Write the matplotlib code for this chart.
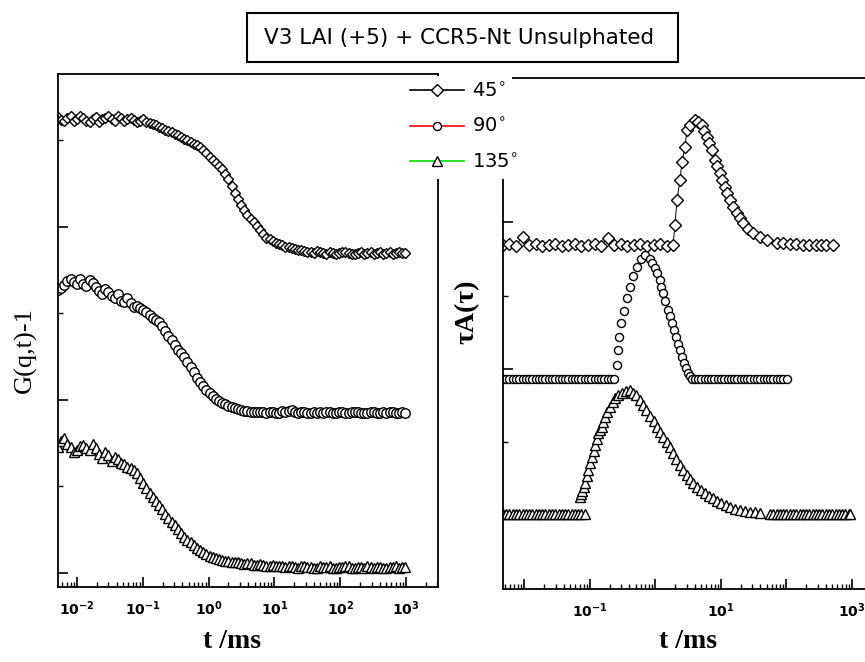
import matplotlib
matplotlib.use("Agg")
import numpy as np
import matplotlib.pyplot as plt
from matplotlib.lines import Line2D
from matplotlib.patches import Rectangle
from matplotlib.ticker import LogLocator, FuncFormatter, MultipleLocator, NullFormatter

W, H = 865, 662

# ---------------- data: left panel, correlation functions (offset) ----------------
lag_ms = [0.00513, 0.00573, 0.00640, 0.00715, 0.00798, 0.00891, 0.00995, 0.01112, 0.01242, 0.01387,
          0.01549, 0.01730, 0.01932, 0.02158, 0.02410, 0.02692, 0.03006, 0.03357, 0.03750, 0.04188,
          0.04677, 0.05224, 0.05834, 0.06516, 0.07278, 0.08128, 0.09078, 0.1014, 0.1132, 0.1265,
          0.1413, 0.1578, 0.1762, 0.1968, 0.2198, 0.2455, 0.2742, 0.3062, 0.3420, 0.3819,
          0.4266, 0.4764, 0.5321, 0.5943, 0.6637, 0.7413, 0.8279, 0.9247, 1.033, 1.153,
          1.288, 1.439, 1.607, 1.795, 2.004, 2.239, 2.500, 2.793, 3.119, 3.483,
          3.890, 4.345, 4.853, 5.420, 6.053, 6.761, 7.551, 8.433, 9.419, 10.52,
          11.75, 13.12, 14.66, 16.37, 18.28, 20.42, 22.80, 25.47, 28.44, 31.77,
          35.48, 39.63, 44.26, 49.43, 55.21, 61.66, 68.87, 76.91, 85.90, 95.94,
          107.2, 119.7, 133.7, 149.3, 166.7, 186.2, 208.0, 232.3, 259.4, 289.7,
          323.6, 361.4, 403.6, 450.8, 503.5, 562.3, 628.1, 701.5, 783.4, 875.0, 977.2]

g_45 = [2.636, 2.620, 2.613, 2.628, 2.642, 2.610, 2.624, 2.640, 2.630, 2.615,
        2.607, 2.625, 2.636, 2.605, 2.624, 2.632, 2.642, 2.622, 2.613, 2.640,
        2.630, 2.612, 2.624, 2.628, 2.618, 2.605, 2.613, 2.622, 2.607, 2.600,
        2.595, 2.588, 2.578, 2.570, 2.561, 2.556, 2.549, 2.540, 2.532, 2.522,
        2.509, 2.500, 2.491, 2.482, 2.474, 2.460, 2.445, 2.425, 2.405, 2.388,
        2.370, 2.352, 2.335, 2.308, 2.277, 2.238, 2.197, 2.160, 2.127, 2.098,
        2.069, 2.048, 2.029, 2.006, 1.983, 1.958, 1.936, 1.928, 1.919, 1.910,
        1.902, 1.893, 1.884, 1.882, 1.879, 1.872, 1.867, 1.864, 1.861, 1.858,
        1.855, 1.850, 1.861, 1.858, 1.850, 1.845, 1.855, 1.852, 1.844, 1.848,
        1.855, 1.858, 1.850, 1.842, 1.844, 1.850, 1.855, 1.845, 1.850, 1.855,
        1.844, 1.848, 1.855, 1.842, 1.850, 1.855, 1.844, 1.848, 1.855, 1.852, 1.850]

g_90 = [1.636, 1.650, 1.665, 1.690, 1.699, 1.680, 1.671, 1.700, 1.671, 1.660,
        1.694, 1.675, 1.653, 1.630, 1.613, 1.640, 1.624, 1.600, 1.590, 1.610,
        1.572, 1.565, 1.590, 1.560, 1.538, 1.545, 1.532, 1.520, 1.509, 1.492,
        1.474, 1.462, 1.451, 1.425, 1.399, 1.372, 1.347, 1.318, 1.289, 1.270,
        1.249, 1.220, 1.191, 1.160, 1.127, 1.104, 1.081, 1.060, 1.040, 1.022,
        1.006, 0.994, 0.983, 0.974, 0.965, 0.960, 0.954, 0.948, 0.942, 0.939,
        0.936, 0.933, 0.931, 0.928, 0.931, 0.931, 0.925, 0.928, 0.931, 0.925,
        0.925, 0.936, 0.931, 0.938, 0.942, 0.930, 0.925, 0.928, 0.931, 0.925,
        0.925, 0.931, 0.925, 0.928, 0.925, 0.931, 0.931, 0.925, 0.925, 0.928,
        0.931, 0.925, 0.925, 0.931, 0.931, 0.928, 0.925, 0.925, 0.925, 0.931,
        0.931, 0.925, 0.925, 0.928, 0.925, 0.931, 0.931, 0.925, 0.925, 0.928, 0.925]

g_135 = [0.728, 0.760, 0.780, 0.745, 0.728, 0.700, 0.711, 0.735, 0.740, 0.722,
         0.711, 0.745, 0.723, 0.690, 0.665, 0.700, 0.682, 0.650, 0.671, 0.660,
         0.636, 0.628, 0.613, 0.605, 0.595, 0.575, 0.549, 0.520, 0.491, 0.465,
         0.439, 0.416, 0.393, 0.367, 0.341, 0.318, 0.295, 0.275, 0.254, 0.230,
         0.208, 0.193, 0.179, 0.162, 0.145, 0.133, 0.121, 0.110, 0.098, 0.092,
         0.087, 0.081, 0.075, 0.072, 0.069, 0.066, 0.064, 0.061, 0.058, 0.052,
         0.058, 0.055, 0.046, 0.049, 0.052, 0.046, 0.040, 0.043, 0.046, 0.038,
         0.040, 0.042, 0.035, 0.040, 0.038, 0.035, 0.029, 0.040, 0.040, 0.035,
         0.035, 0.029, 0.029, 0.040, 0.035, 0.035, 0.040, 0.029, 0.029, 0.035,
         0.035, 0.040, 0.040, 0.029, 0.029, 0.035, 0.035, 0.029, 0.040, 0.035,
         0.029, 0.035, 0.035, 0.029, 0.029, 0.035, 0.035, 0.040, 0.029, 0.035, 0.035]

# ---------------- data: right panel, relaxation-time distributions (offset) ----------------
tau_45 = [0.004677, 0.005888, 0.007413, 0.009333, 0.01175, 0.01479, 0.01862, 0.02344, 0.02951, 0.03715,
          0.04677, 0.05888, 0.07413, 0.09333, 0.1175, 0.1479, 0.1862, 0.2344, 0.2951, 0.3715,
          0.4677, 0.5888, 0.7413, 0.9333, 1.175, 1.479, 1.849,
          1.987, 2.128, 2.366, 2.541, 2.818, 3.027, 3.365, 4.009, 4.467, 5.129,
          5.598, 6.109, 6.668, 7.295, 8.091, 8.831, 9.661, 10.54, 11.51, 12.56,
          13.71, 15.49, 17.54, 19.50, 21.68, 25.70, 30.83, 39.81, 50.35, 70.79,
          89.13, 113.0, 141.3, 177.8, 223.9, 281.8, 338.8, 398.1, 512.9]
a_45 = [1.844, 1.850, 1.840, 1.900, 1.844, 1.850, 1.840, 1.844, 1.850, 1.840,
        1.844, 1.850, 1.840, 1.844, 1.850, 1.840, 1.890, 1.844, 1.850, 1.840,
        1.844, 1.850, 1.840, 1.844, 1.850, 1.840, 1.844,
        1.980, 2.150, 2.286, 2.408, 2.510, 2.626, 2.660, 2.694, 2.680, 2.660,
        2.620, 2.578, 2.535, 2.490, 2.422, 2.378, 2.333, 2.285, 2.238, 2.195,
        2.150, 2.105, 2.061, 2.025, 1.993, 1.955, 1.925, 1.895, 1.878, 1.860,
        1.855, 1.850, 1.850, 1.845, 1.844, 1.844, 1.846, 1.844, 1.844]

tau_90 = [0.004677, 0.005248, 0.005888, 0.006607, 0.007413, 0.008318, 0.009333, 0.01047, 0.01175, 0.01318,
          0.01479, 0.01660, 0.01862, 0.02089, 0.02344, 0.02630, 0.02951, 0.03311, 0.03715, 0.04169,
          0.04677, 0.05248, 0.05888, 0.06607, 0.07413, 0.08318, 0.09333, 0.1047, 0.1175, 0.1318,
          0.1479, 0.1660, 0.1862, 0.2089, 0.2344,
          0.2582, 0.2673, 0.2773, 0.2972, 0.3304, 0.3673, 0.4083, 0.4529, 0.5224, 0.6012, 0.6918,
          0.8241, 0.8995, 0.9817, 1.072, 1.172, 1.236, 1.303, 1.422, 1.552, 1.667,
          1.786, 1.919, 2.056, 2.208, 2.366, 2.541, 2.723, 2.924, 3.133, 3.365, 3.606,
          3.981, 4.467, 5.012, 5.623, 6.310, 7.079, 7.943, 8.913, 10.00, 11.22,
          12.59, 14.13, 15.85, 17.78, 19.95, 22.39, 25.12, 28.18, 31.62, 35.48,
          39.81, 44.67, 50.12, 56.23, 63.10, 70.79, 79.43, 89.13, 101.9]
a_90 = [0.932, 0.932, 0.932, 0.932, 0.932, 0.932, 0.932, 0.932, 0.932, 0.932,
        0.932, 0.932, 0.932, 0.932, 0.932, 0.932, 0.932, 0.932, 0.932, 0.932,
        0.932, 0.932, 0.932, 0.932, 0.932, 0.932, 0.932, 0.932, 0.932, 0.932,
        0.932, 0.932, 0.932, 0.932, 0.932,
        1.027, 1.129, 1.218, 1.313, 1.395, 1.483, 1.558, 1.633, 1.694, 1.748, 1.776,
        1.748, 1.720, 1.687, 1.650, 1.605, 1.560, 1.517, 1.460, 1.401, 1.360,
        1.313, 1.265, 1.218, 1.172, 1.129, 1.085, 1.041, 1.005, 0.973, 0.950, 0.932,
        0.932, 0.932, 0.932, 0.932, 0.932, 0.932, 0.932, 0.932, 0.932, 0.932,
        0.932, 0.932, 0.932, 0.932, 0.932, 0.932, 0.932, 0.932, 0.932, 0.932,
        0.932, 0.932, 0.932, 0.932, 0.932, 0.932, 0.932, 0.932, 0.932]

tau_135 = [0.004677, 0.005248, 0.005888, 0.006607, 0.007413, 0.008318, 0.009333, 0.01047, 0.01175, 0.01318,
           0.01479, 0.01660, 0.01862, 0.02089, 0.02344, 0.02630, 0.02951, 0.03311, 0.03715, 0.04169,
           0.04677, 0.05248, 0.05888, 0.06607, 0.07413, 0.08318,
           0.07031, 0.07345, 0.07674, 0.08035, 0.08395, 0.08851, 0.09311, 0.1000, 0.1074, 0.1132,
           0.1191, 0.1259, 0.1324, 0.1413, 0.1524, 0.1607, 0.1694, 0.1849, 0.2018, 0.2208,
           0.2410, 0.2723, 0.3083, 0.3548, 0.4083,
           0.4571, 0.5129, 0.5754, 0.6442, 0.7244, 0.8222, 0.9333, 1.054, 1.175, 1.318,
           1.479, 1.663, 1.862, 2.089, 2.344, 2.630, 2.985, 3.388, 3.802, 4.305,
           5.012, 5.754, 6.607, 7.551, 8.710, 10.00, 11.75, 13.71, 16.22, 19.50,
           23.44, 27.73, 33.11, 39.81,
           56.23, 63.10, 70.79, 79.43, 89.13, 100.0, 112.2, 125.9, 141.3, 158.5,
           177.8, 199.5, 223.9, 251.2, 281.8, 316.2, 354.8, 398.1, 446.7, 501.2,
           562.3, 631.0, 707.9, 794.3, 891.3, 933.3]
a_135 = [0.014, 0.014, 0.014, 0.014, 0.014, 0.014, 0.014, 0.014, 0.014, 0.014,
         0.014, 0.014, 0.014, 0.014, 0.014, 0.014, 0.014, 0.014, 0.014, 0.014,
         0.014, 0.014, 0.014, 0.014, 0.014, 0.014,
         0.129, 0.150, 0.170, 0.195, 0.224, 0.270, 0.313, 0.357, 0.401, 0.442,
         0.483, 0.525, 0.565, 0.585, 0.605, 0.640, 0.673, 0.710, 0.741, 0.775,
         0.803, 0.822, 0.837, 0.850, 0.857,
         0.840, 0.820, 0.790, 0.755, 0.720, 0.680, 0.645, 0.605, 0.570, 0.535,
         0.500, 0.469, 0.430, 0.390, 0.350, 0.313, 0.280, 0.250, 0.225, 0.197,
         0.175, 0.155, 0.138, 0.122, 0.105, 0.090, 0.075, 0.061, 0.050, 0.040,
         0.033, 0.027, 0.024, 0.020,
         0.014, 0.014, 0.014, 0.014, 0.014, 0.014, 0.014, 0.014, 0.014, 0.014,
         0.014, 0.014, 0.014, 0.014, 0.014, 0.014, 0.014, 0.014, 0.014, 0.014,
         0.014, 0.014, 0.014, 0.014, 0.014, 0.014]

angle_labels = [r"45$^{\circ}$", r"90$^{\circ}$", r"135$^{\circ}$"]
line_colors = ["black", "#ff0000", "#00dd00"]
title_text = "V3 LAI (+5) + CCR5-Nt Unsulphated"

# ---------------- figure ----------------
fig = plt.figure(figsize=(W / 100, H / 100), dpi=100)


def px_rect(x0, y0, x1, y1):
    return [x0 / W, 1 - y1 / H, (x1 - x0) / W, (y1 - y0) / H]


axL = fig.add_axes(px_rect(58, 74, 438, 587))
axR = fig.add_axes(px_rect(503, 78, 871.6, 589))

mk = dict(mfc="white", mec="black", mew=1.0)

# left panel
axL.plot(lag_ms, g_45, ls="-", color="black", lw=0.7, marker="D", ms=5.2, **mk)
axL.plot(lag_ms, g_90, ls="none", marker="o", ms=6.8, **mk)
axL.plot(lag_ms, g_135, ls="none", marker="^", ms=7.5, **mk)

# right panel
axR.plot(tau_45, a_45, ls="-", color="black", lw=0.7, marker="D", ms=6.6, **mk)
axR.plot(tau_90, a_90, ls="none", marker="o", ms=5.8, **mk)
axR.plot(tau_135, a_135, ls="none", marker="^", ms=7.0, **mk)

axL.set_xscale("log")
axR.set_xscale("log")
axL.set_xlim(0.00514, 3062)
axL.set_ylim(-0.081, 2.884)
axR.set_xlim(0.004699, 1995)
axR.set_ylim(-0.497, 2.98)


def fmt_all(v, pos):
    e = int(round(np.log10(v)))
    return r"$\mathbf{10^{%d}}$" % e


def fmt_odd(v, pos):
    e = int(round(np.log10(v)))
    if e % 2 != 0:
        return r"$\mathbf{10^{%d}}$" % e
    return ""


for ax, f in ((axL, fmt_all), (axR, fmt_odd)):
    for s in ax.spines.values():
        s.set_linewidth(1.3)
    ax.xaxis.set_major_locator(LogLocator(base=10, numticks=20))
    ax.xaxis.set_minor_locator(LogLocator(base=10, subs=np.arange(2, 10), numticks=20))
    ax.xaxis.set_major_formatter(FuncFormatter(f))
    ax.xaxis.set_minor_formatter(NullFormatter())
    ax.yaxis.set_major_locator(MultipleLocator(1))
    ax.yaxis.set_minor_locator(MultipleLocator(0.5))
    ax.yaxis.set_major_formatter(NullFormatter())
    ax.tick_params(which="both", direction="in", top=False, right=False)
    ax.tick_params(which="major", length=7, width=1.2, labelsize=10, pad=9)
    ax.tick_params(which="minor", length=3.5, width=1.0)

# axis labels
fig.text(25 / W, 1 - 350 / H, "G(q,t)-1", rotation=90, ha="center", va="center",
         family="Liberation Serif", fontsize=19)
fig.text(467 / W, 1 - 312 / H, "τA(τ)", rotation=90, ha="center", va="center",
         family="Liberation Serif", fontweight="bold", fontsize=20)
fig.text(232 / W, 1 - 641 / H, "t /ms", ha="center", va="center",
         family="Liberation Serif", fontweight="bold", fontsize=20)
fig.text(688 / W, 1 - 641 / H, "t /ms", ha="center", va="center",
         family="Liberation Serif", fontweight="bold", fontsize=20)

# title box
fig.add_artist(Rectangle((247 / W, 1 - 62 / H), 431 / W, 49 / H, transform=fig.transFigure,
                         fill=False, ec="black", lw=1.5))
fig.text(459 / W, 1 - 38 / H, title_text, ha="center", va="center", fontsize=15.5)

# legend (white block hiding the axes corners)
fig.add_artist(Rectangle((400 / W, 1 - 179 / H), 112 / W, 103 / H, transform=fig.transFigure,
                         fc="white", ec="none", zorder=3))
markers = ["D", "o", "^"]
msizes = [6.4, 5.8, 7.0]
handles = [Line2D([], [], color=c, lw=1.2, marker=m, ms=s, **mk)
           for c, m, s in zip(line_colors, markers, msizes)]
leg = fig.legend(handles, angle_labels, loc="upper left", bbox_to_anchor=(410 / W, 1 - 82 / H),
                 frameon=False, fontsize=14, handlelength=2.8, handletextpad=0.4,
                 labelspacing=0.84, borderpad=0, borderaxespad=0, numpoints=1)
leg.set_zorder(5)

fig.savefig("out.png", dpi=100)
